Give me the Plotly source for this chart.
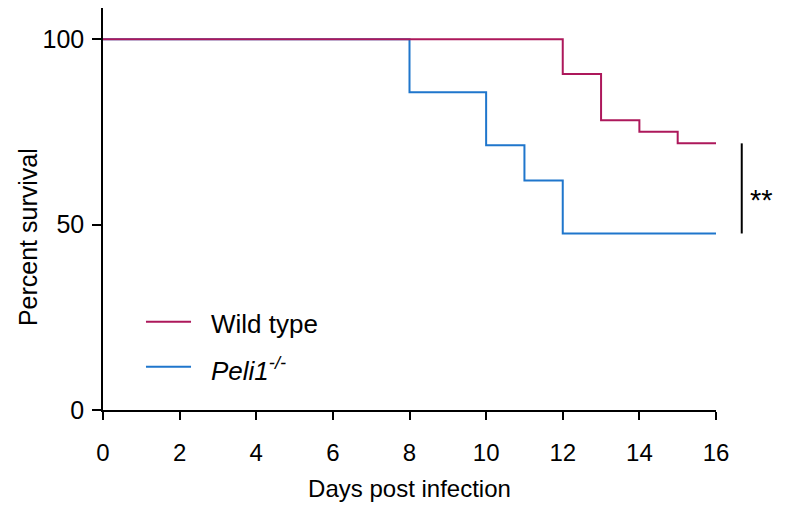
import plotly.graph_objects as go

days_wt = [0, 12, 13, 14, 15, 16]
surv_wt = [100, 90.6, 78.1, 75.0, 71.9, 71.9]
days_ko = [0, 8, 10, 11, 12, 16]
surv_ko = [100, 85.7, 71.4, 61.9, 47.6, 47.6]
x_ticks = [0, 2, 4, 6, 8, 10, 12, 14, 16]
y_ticks = [0, 50, 100]
names = ["Wild type", "<i>Peli1</i><sup><i>-/-</i></sup>"]

red = "#ad185b"
blue = "#1f76cc"
font = "Liberation Sans, Arial, sans-serif"

fig = go.Figure()
fig.add_trace(go.Scatter(
    x=days_ko, y=surv_ko, mode="lines", line_shape="hv",
    line=dict(color=blue, width=2), name=names[1]
))
fig.add_trace(go.Scatter(
    x=days_wt, y=surv_wt, mode="lines", line_shape="hv",
    line=dict(color=red, width=2), name=names[0]
))

# legend drawn by hand (longer line samples than plotly's own)
for i, (c, n) in enumerate([(red, names[0]), (blue, names[1])]):
    yl = 0.2197 - i * 0.112
    fig.add_shape(type="line", xref="paper", yref="paper", x0=0.0701, x1=0.1436,
                  y0=yl, y1=yl, line=dict(color=c, width=2))
    fig.add_annotation(xref="paper", yref="paper", x=0.1729, y=yl - 0.006,
                       xanchor="left", yanchor="middle", text=n, showarrow=False,
                       font=dict(size=26, color="black", family=font))

# significance bracket
fig.add_shape(type="line", xref="paper", yref="y", x0=1.042, x1=1.042,
              y0=surv_ko[-1], y1=surv_wt[-1], line=dict(color="black", width=2))
fig.add_annotation(xref="paper", yref="y", x=1.097, y=56.5, xanchor="right",
                   text="**", showarrow=False,
                   font=dict(size=29, color="black", family=font))

# y axis title
fig.add_annotation(xref="paper", yref="paper", x=-0.1485, y=0.43, text="Percent survival",
                   textangle=-90, showarrow=False,
                   font=dict(size=25, color="black", family=font))

fig.update_layout(
    width=769, height=496,
    margin=dict(l=95, r=61, t=0, b=94),
    plot_bgcolor="white", paper_bgcolor="white",
    font=dict(family=font, size=24, color="black"),
    showlegend=False,
    xaxis=dict(range=[0, 16], tickvals=x_ticks, showline=True, linecolor="black",
               linewidth=1.5, ticks="outside", ticklen=8, tickwidth=1.5,
               tickcolor="black", showgrid=False, zeroline=False,
               tickfont=dict(size=24), ticklabelstandoff=12,
               title=dict(text="Days post infection", standoff=16, font=dict(size=24))),
    yaxis=dict(range=[0, 108.4], tickvals=y_ticks, showline=True, linecolor="black",
               linewidth=1.5, ticks="outside", ticklen=9, tickwidth=1.5,
               tickcolor="black", showgrid=False, zeroline=False,
               tickfont=dict(size=25), ticklabelstandoff=3),
)

fig.write_html("out.html")
